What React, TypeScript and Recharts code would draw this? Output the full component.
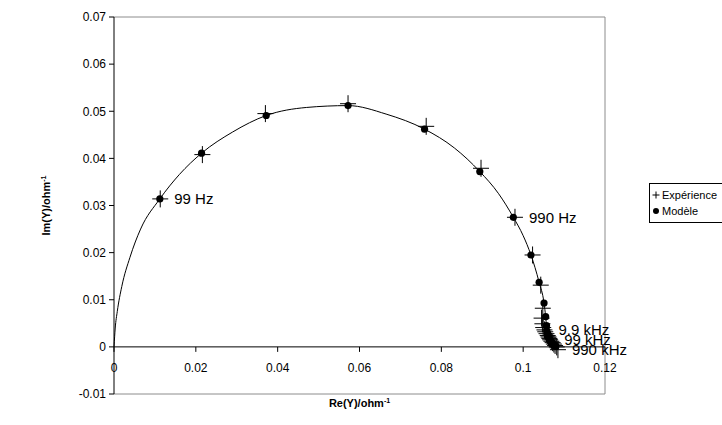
import { ComposedChart, Line, Scatter, XAxis, YAxis, ReferenceLine } from 'recharts'

const xTicks = [0, 0.02, 0.04, 0.06, 0.08, 0.1, 0.12]
const yTicks = [-0.01, 0, 0.01, 0.02, 0.03, 0.04, 0.05, 0.06, 0.07]

// measured admittance (ohm^-1)
const expRe = [
  0.0113, 0.0216, 0.037, 0.0572, 0.0763, 0.0897, 0.098, 0.1023, 0.1043, 0.1048,
  0.1045, 0.1047, 0.1049, 0.1052, 0.1054, 0.1057, 0.106, 0.1062, 0.1064, 0.1066,
  0.1069, 0.1072, 0.1075, 0.1078, 0.1082, 0.1085,
]
const expIm = [
  0.0314, 0.0408, 0.0495, 0.0516, 0.0468, 0.0379, 0.0275, 0.0195, 0.0131, 0.0082,
  0.0061, 0.0049, 0.0041, 0.0036, 0.0032, 0.0028, 0.0024, 0.0021, 0.0018, 0.0015,
  0.0012, 0.0009, 0.0006, 0.0003, 0.0, -0.0006,
]
const freqLabels: Record<number, string> = {
  0: '99 Hz',
  6: '990 Hz',
  13: '9.9 kHz',
  19: '99 kHz',
  25: '990 kHz',
}

// fitted model at the measured frequencies
const modelRe = [
  0.0112, 0.0214, 0.0372, 0.0572, 0.0759, 0.0894, 0.0976, 0.1019, 0.1039, 0.1051,
  0.1055, 0.1057, 0.1058, 0.106, 0.1062, 0.1064, 0.1066, 0.1069, 0.1071, 0.1073,
  0.1075, 0.1077, 0.1079, 0.108,
]
const modelIm = [
  0.0314, 0.0411, 0.0491, 0.0512, 0.0462, 0.0372, 0.0275, 0.0195, 0.0137, 0.0093,
  0.0064, 0.0045, 0.0034, 0.0027, 0.0021, 0.0017, 0.0013, 0.001, 0.0008, 0.0006,
  0.0004, 0.0003, 0.0002, 0.0001,
]

// model curve
const curveRe = [
  0, 0.0003, 0.0008, 0.0019, 0.0039, 0.0065, 0.0112, 0.016, 0.0214, 0.029, 0.0372,
  0.047, 0.0572, 0.0665, 0.0759, 0.0832, 0.0894, 0.094, 0.0976, 0.1, 0.1019, 0.1039,
  0.1051, 0.1055, 0.1057, 0.106, 0.1066, 0.1072, 0.108,
]
const curveIm = [
  0, 0.004, 0.0075, 0.0128, 0.019, 0.025, 0.0314, 0.0366, 0.0411, 0.0456, 0.0491,
  0.0508, 0.0512, 0.0494, 0.0462, 0.0422, 0.0372, 0.0325, 0.0275, 0.0236, 0.0195,
  0.0137, 0.0093, 0.0064, 0.0045, 0.0025, 0.0014, 0.0007, 0.0002,
]

const experience = expRe.map((re, i) => ({ re, im: expIm[i], label: freqLabels[i] }))
const modele = modelRe.map((re, i) => ({ re, im: modelIm[i] }))
const curve = curveRe.map((re, i) => ({ re, im: curveIm[i] }))

const FONT = '"Liberation Sans", Arial, sans-serif'
const W = 722
const H = 425
const TOP = 17
const BOTTOM = 31
const LEFT = 114
const RIGHT = 117
const PLOT_H = H - TOP - BOTTOM
// pixel row of Im = 0, where the x axis crosses
const ZERO_Y = TOP + (PLOT_H * 0.07) / 0.08

const XTick = (props: any) => {
  const { x, payload } = props
  return (
    <g>
      <line x1={x} x2={x} y1={ZERO_Y} y2={ZERO_Y + 5} stroke="#000" />
      <text x={x} y={ZERO_Y + 25} textAnchor="middle" fontSize={12} fill="#000" fontFamily={FONT}>
        {payload.value}
      </text>
    </g>
  )
}

const Cross = (props: any) => {
  const { cx, cy, payload } = props
  return (
    <g>
      <line x1={cx - 8} x2={cx + 8} y1={cy} y2={cy} stroke="#000" />
      <line x1={cx} x2={cx} y1={cy - 8.5} y2={cy + 8.5} stroke="#000" />
      {payload.label && (
        <text x={cx + 14} y={cy} dy="0.36em" fontSize={15} fill="#000" fontFamily={FONT}>
          {payload.label}
        </text>
      )}
    </g>
  )
}

const Dot = (props: any) => <circle cx={props.cx} cy={props.cy} r={3.6} fill="#000" />

const YTitle = (props: any) => {
  const vb = props.viewBox
  const cx = 50
  const cy = vb.y + vb.height / 2
  return (
    <text
      x={cx}
      y={cy}
      transform={`rotate(-90 ${cx} ${cy})`}
      textAnchor="middle"
      fontSize={11}
      fontWeight="bold"
      fill="#000"
      fontFamily={FONT}
    >
      <tspan>Im(Y)/ohm</tspan>
      <tspan dy={-4} fontSize={7}>-1</tspan>
    </text>
  )
}

const XTitle = (props: any) => {
  const vb = props.viewBox
  return (
    <text
      x={vb.x + vb.width / 2}
      y={vb.y + 13}
      textAnchor="middle"
      fontSize={11}
      fontWeight="bold"
      fill="#000"
      fontFamily={FONT}
    >
      <tspan>Re(Y)/ohm</tspan>
      <tspan dy={-4} fontSize={7}>-1</tspan>
    </text>
  )
}

export default function App() {
  return (
    <div style={{ position: 'relative', width: W, height: H, overflow: 'hidden', background: '#fff' }}>
      <style>{'body{margin:0}'}</style>
      <ComposedChart width={W} height={H} margin={{ top: TOP, right: RIGHT, bottom: 0, left: 0 }}>
        <XAxis
          type="number"
          dataKey="re"
          domain={[0, 0.12]}
          ticks={xTicks}
          height={BOTTOM}
          tickSize={0}
          tickMargin={0}
          axisLine={false}
          tickLine={false}
          interval={0}
          tick={<XTick />}
          label={{ content: <XTitle /> }}
        />
        <YAxis
          type="number"
          dataKey="im"
          domain={[-0.01, 0.07]}
          ticks={yTicks}
          width={LEFT}
          tickSize={5}
          tickMargin={3}
          interval={0}
          axisLine={{ stroke: '#000' }}
          tickLine={{ stroke: '#000' }}
          tick={{ fill: '#000', fontSize: 12, fontFamily: FONT }}
          label={{ content: <YTitle /> }}
        />
        <ReferenceLine y={0.07} stroke="#8c8c8c" />
        <ReferenceLine y={-0.01} stroke="#8c8c8c" />
        <ReferenceLine x={0.12} stroke="#8c8c8c" />
        <ReferenceLine y={0} stroke="#000" />
        <Line
          data={curve}
          dataKey="im"
          type="monotone"
          stroke="#000"
          strokeWidth={1}
          dot={false}
          activeDot={false}
          legendType="none"
          isAnimationActive={false}
        />
        <Scatter name="Expérience" data={experience} dataKey="im" shape={<Cross />} isAnimationActive={false} />
        <Scatter name="Modèle" data={modele} dataKey="im" shape={<Dot />} isAnimationActive={false} />
      </ComposedChart>
      <div
        style={{
          position: 'absolute',
          left: 649,
          top: 183,
          width: 100,
          height: 38,
          border: '1px solid #000',
          fontFamily: FONT,
          fontSize: 11,
          color: '#000',
          background: '#fff',
        }}
      >
        <div style={{ display: 'flex', alignItems: 'center', height: 16, marginTop: 3, paddingLeft: 2 }}>
          <svg width={8} height={8} style={{ marginRight: 2 }}>
            <line x1={0.5} x2={7.5} y1={4} y2={4} stroke="#000" />
            <line x1={4} x2={4} y1={0.5} y2={7.5} stroke="#000" />
          </svg>
          Expérience
        </div>
        <div style={{ display: 'flex', alignItems: 'center', height: 16, paddingLeft: 2 }}>
          <svg width={8} height={8} style={{ marginRight: 2 }}>
            <circle cx={4} cy={4} r={3} fill="#000" />
          </svg>
          Modèle
        </div>
      </div>
    </div>
  )
}
